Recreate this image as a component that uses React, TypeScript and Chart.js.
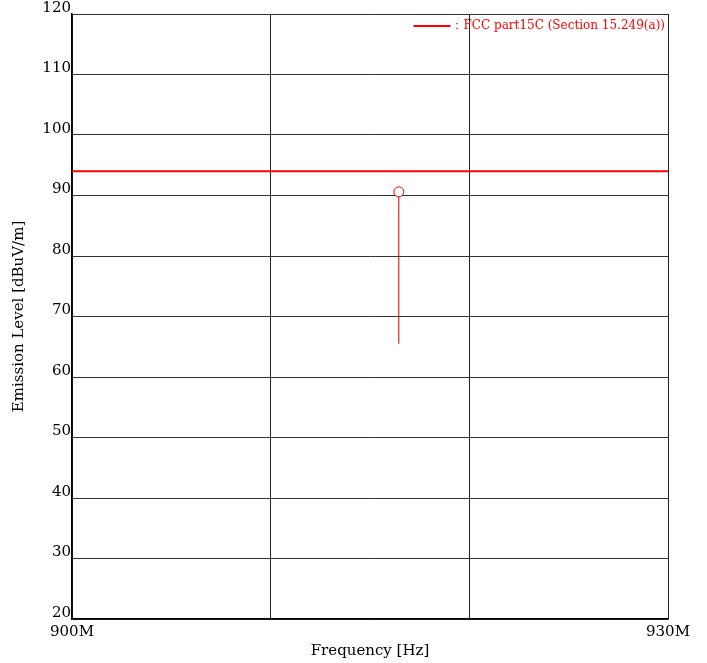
import React, { useEffect, useRef } from "react";
import { Chart, registerables } from "chart.js";

Chart.register(...registerables);

// ---- data ----
const xTickValues = [900, 910, 920, 930]; // MHz
const xTickLabels = ["900M", "", "", "930M"];
const yTickValues = [20, 30, 40, 50, 60, 70, 80, 90, 100, 110, 120];
const limitFreq = [900, 930];
const limitLevel = [94, 94];
const peakFreq = [916.45];
const peakLevel = [90.6];
const peakFloorLevel = [65.5];
const limitName = "FCC part15C (Section 15.249(a))";
const xTitle = "Frequency [Hz]";
const yTitle = "Emission Level [dBuV/m]";

const FONT = "'DejaVu Serif', serif";
const RED = "#ff0000";

const legendPlugin = {
  id: "insideLegend",
  afterDraw(chart: any) {
    const { ctx, chartArea } = chart;
    ctx.save();
    ctx.font = `12px ${FONT}`;
    ctx.fillStyle = RED;
    ctx.textBaseline = "middle";
    ctx.textAlign = "right";
    const text = "：" + limitName;
    const right = chartArea.right - 3;
    const y = chartArea.top + 12;
    ctx.fillText(text, right, y);
    const w = ctx.measureText(text).width;
    ctx.strokeStyle = RED;
    ctx.lineWidth = 2;
    ctx.beginPath();
    ctx.moveTo(right - w - 38, y);
    ctx.lineTo(right - w - 1, y);
    ctx.stroke();
    ctx.restore();
  },
};

export default function App() {
  const ref = useRef<HTMLCanvasElement>(null);

  useEffect(() => {
    if (!ref.current) return;
    const chart = new Chart(ref.current, {
      type: "line",
      data: {
        datasets: [
          {
            label: "peak",
            data: peakFreq.map((f, i) => ({ x: f, y: peakLevel[i] })),
            showLine: false,
            pointStyle: "circle",
            pointRadius: 5,
            pointBorderWidth: 1,
            pointBorderColor: RED,
            pointBackgroundColor: "#ffffff",
            order: 0,
          },
          {
            label: "stem",
            data: peakFreq.flatMap((f, i) => [
              { x: f, y: peakFloorLevel[i] },
              { x: f, y: peakLevel[i] },
            ]),
            borderColor: "#cc0000",
            borderWidth: 1,
            pointRadius: 0,
            order: 1,
          },
          {
            label: limitName,
            data: limitFreq.map((f, i) => ({ x: f, y: limitLevel[i] })),
            borderColor: RED,
            borderWidth: 2,
            pointRadius: 0,
            order: 2,
          },
        ],
      },
      options: {
        animation: false,
        responsive: false,
        maintainAspectRatio: false,
        layout: { padding: { top: 14, right: 39, left: 0, bottom: 0 } },
        plugins: {
          legend: { display: false },
          tooltip: { enabled: false },
        },
        scales: {
          x: {
            type: "linear",
            min: 900,
            max: 930,
            afterBuildTicks: (scale: any) => {
              scale.ticks = xTickValues.map((v) => ({ value: v }));
            },
            afterFit: (scale: any) => {
              scale.height = 44;
            },
            ticks: {
              autoSkip: false,
              maxRotation: 0,
              padding: 4,
              color: "#000",
              font: { family: FONT, size: 15 },
              callback: (v: any) => {
                const i = xTickValues.indexOf(Number(v));
                return i >= 0 ? xTickLabels[i] : "";
              },
            },
            grid: { color: "#222", lineWidth: 1, drawTicks: false },
            border: { color: "#000", width: 1.5 },
            title: {
              display: true,
              text: xTitle,
              color: "#000",
              font: { family: FONT, size: 15 },
              padding: { top: 0, bottom: 3 },
            },
          },
          y: {
            type: "linear",
            min: 20,
            max: 120,
            afterBuildTicks: (scale: any) => {
              scale.ticks = yTickValues.map((v) => ({ value: v }));
            },
            afterFit: (scale: any) => {
              scale.width = 72;
            },
            ticks: {
              autoSkip: false,
              padding: 1,
              labelOffset: -6,
              color: "#000",
              font: { family: FONT, size: 15 },
              callback: (v: any) => String(v),
            },
            grid: { color: "#333", lineWidth: 1, drawTicks: false },
            border: { color: "#000", width: 1.5 },
            title: {
              display: true,
              text: yTitle,
              color: "#000",
              font: { family: FONT, size: 15 },
              padding: { top: 10, bottom: 0 },
            },
          },
        },
      },
      plugins: [legendPlugin],
    } as any);
    return () => chart.destroy();
  }, []);

  return (
    <div style={{ position: "fixed", left: 0, top: 0, width: 707, height: 663, background: "#fff" }}>
      <canvas ref={ref} width={707} height={663} style={{ width: 707, height: 663, display: "block" }} />
    </div>
  );
}
